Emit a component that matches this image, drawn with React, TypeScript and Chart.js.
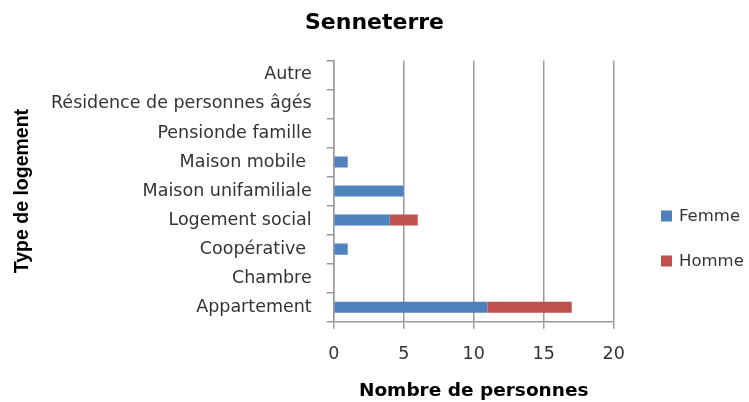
import React, { useEffect, useRef } from "react";
import { Chart, registerables } from "chart.js";

Chart.register(...registerables);

const categories = [
  "Autre",
  "Résidence de personnes âgés",
  "Pensionde famille",
  "Maison mobile ",
  "Maison unifamiliale",
  "Logement social",
  "Coopérative ",
  "Chambre",
  "Appartement",
];
const femme = [0, 0, 0, 1, 5, 4, 1, 0, 11];
const homme = [0, 0, 0, 0, 0, 2, 0, 0, 6];
const seriesNames = ["Femme", "Homme"];
const seriesColors = ["#4F81BD", "#C0504D"];
const xMin = 0;
const xMax = 20;
const xStep = 5;

const GRID = "#9a9a9a";
const TEXT = "#333333";

const legendPlugin = {
  id: "customLegend",
  afterDraw(chart: any) {
    const ctx = chart.ctx;
    ctx.save();
    ctx.font = "16.5px 'DejaVu Sans'";
    ctx.textBaseline = "middle";
    ctx.textAlign = "left";
    chart.data.datasets.forEach((ds: any, i: number) => {
      const y = 216 + i * 45;
      ctx.fillStyle = ds.backgroundColor;
      ctx.fillRect(661, y - 5.5, 11, 11);
      ctx.fillStyle = TEXT;
      ctx.fillText(ds.label, 679, y + 0.5);
    });
    ctx.restore();
  },
};

export default function App() {
  const ref = useRef<HTMLCanvasElement>(null);
  useEffect(() => {
    const chart = new Chart(ref.current as HTMLCanvasElement, {
      type: "bar",
      data: {
        labels: categories,
        datasets: [
          { label: seriesNames[0], data: femme, backgroundColor: seriesColors[0], barPercentage: 0.38, categoryPercentage: 1 },
          { label: seriesNames[1], data: homme, backgroundColor: seriesColors[1], barPercentage: 0.38, categoryPercentage: 1 },
        ],
      },
      options: {
        indexAxis: "y",
        animation: false,
        responsive: false,
        layout: { padding: 0 },
        plugins: {
          legend: { display: false },
          tooltip: { enabled: false },
          title: {
            display: true,
            text: "Senneterre",
            color: "#000",
            font: { family: "'DejaVu Sans'", size: 22, weight: "bold" },
            padding: { top: 10.5, bottom: 23.5 },
          },
        },
        scales: {
          x: {
            type: "linear",
            stacked: true,
            min: xMin,
            max: xMax,
            ticks: { stepSize: xStep, color: TEXT, font: { family: "'DejaVu Sans'", size: 17.5 }, padding: 15 },
            grid: { color: GRID, lineWidth: 1.5, tickLength: 7, drawTicks: true },
            border: { color: GRID, width: 1.5 },
            title: {
              display: true,
              text: "Nombre de personnes",
              color: "#000",
              font: { family: "'DejaVu Sans'", size: 18.5, weight: "bold" },
              padding: { top: 10, bottom: 0 },
            },
            afterFit: (s: any) => {
              s.height = 80.3;
            },
          },
          y: {
            stacked: true,
            ticks: { color: TEXT, font: { family: "'DejaVu Sans'", size: 17.5 }, padding: 15, autoSkip: false },
            grid: { color: GRID, lineWidth: 1.5, drawOnChartArea: false, drawTicks: true, tickLength: 7, offset: true },
            border: { color: GRID, width: 1.5 },
            title: {
              display: true,
              text: "Type de logement",
              color: "#000",
              font: { family: "'Liberation Sans'", size: 19.5, weight: "bold" },
              padding: { top: 11, bottom: 0 },
            },
            afterFit: (s: any) => {
              s.width = 333.7;
            },
          },
          legendSpace: {
            type: "category",
            axis: "y",
            position: "right",
            display: true,
            grid: { display: false, drawTicks: false },
            border: { display: false },
            ticks: { display: false },
            afterFit: (s: any) => {
              s.width = 135.3;
            },
          },
        },
      },
      plugins: [legendPlugin],
    });
    return () => chart.destroy();
  }, []);
  return (
    <div style={{ position: "fixed", left: 0, top: 0, width: 749, height: 402, background: "#fff" }}>
      <canvas ref={ref} width={749} height={402} style={{ width: 749, height: 402, display: "block" }} />
    </div>
  );
}
